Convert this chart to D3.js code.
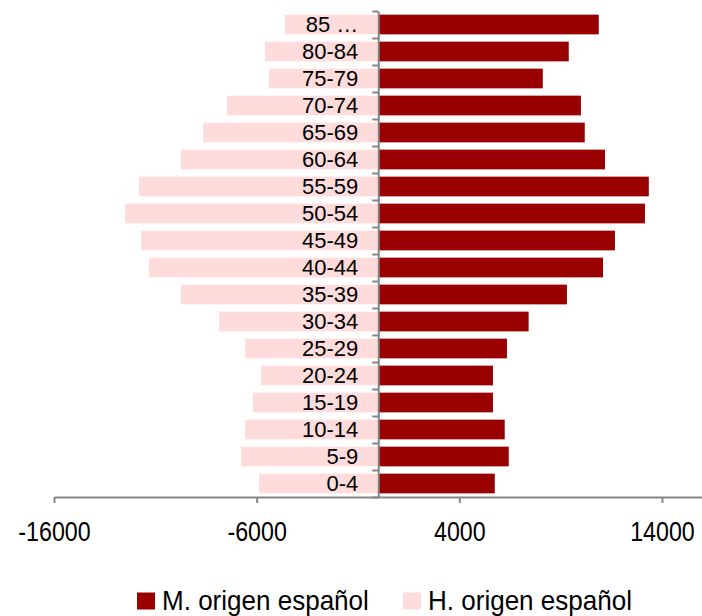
<!DOCTYPE html>
<html>
<head>
<meta charset="utf-8">
<script src="https://cdn.jsdelivr.net/npm/d3@7"></script>
<style>
  body { margin: 0; background: #fff; }
  text { font-family: "Liberation Sans", Arial, sans-serif; fill: #000; }
</style>
</head>
<body>
<svg id="chart" width="702" height="616"></svg>
<script>
// age groups, bottom to top
const categories = ["0-4", "5-9", "10-14", "15-19", "20-24", "25-29", "30-34", "35-39", "40-44",
  "45-49", "50-54", "55-59", "60-64", "65-69", "70-74", "75-79", "80-84", "85 …"];

// M. origen español (right side)
const mujeres = [5750, 6440, 6240, 5660, 5660, 6350, 7420, 9310, 11090,
  11680, 13160, 13350, 11190, 10190, 10000, 8120, 9400, 10880];

// H. origen español (left side, drawn as negative)
const hombres = [5880, 6770, 6570, 6180, 5780, 6570, 7850, 9730, 11310,
  11700, 12490, 11800, 9730, 8640, 7460, 5390, 5590, 4600];

const xTicks = [-16000, -6000, 4000, 14000];

const seriesNames = ["M. origen español", "H. origen español"];
const colors = ["#990000", "#ffdcdc"];

const svg = d3.select("#chart");

const x = d3.scaleLinear().domain([-16000, 16000]).range([54, 702.5]);
const y = d3.scaleBand()
  .domain(categories.slice().reverse())
  .range([11, 497])
  .paddingInner(0.27)
  .paddingOuter(0.135);

const rows = categories.map((c, i) => ({ name: c, m: mujeres[i], h: hombres[i] }));

// H bars (left)
svg.append("g").selectAll("rect")
  .data(rows)
  .join("rect")
  .attr("x", d => x(-d.h))
  .attr("y", d => y(d.name))
  .attr("width", d => x(0) - x(-d.h))
  .attr("height", y.bandwidth())
  .attr("fill", colors[1]);

// M bars (right)
svg.append("g").selectAll("rect")
  .data(rows)
  .join("rect")
  .attr("x", x(0))
  .attr("y", d => y(d.name))
  .attr("width", d => x(d.m) - x(0))
  .attr("height", y.bandwidth())
  .attr("fill", colors[0]);

// category labels next to the zero line
const labelAxis = svg.append("g")
  .attr("transform", `translate(${x(0)},0)`)
  .call(d3.axisLeft(y).tickSize(0).tickPadding(20));
labelAxis.select(".domain").remove();
labelAxis.selectAll("text").attr("font-size", 22).attr("font-family", null);

// vertical axis with ticks between categories
const yEdges = d3.scaleLinear().domain([0, categories.length]).range([497, 11]);
const edgeAxis = svg.append("g")
  .attr("transform", `translate(${x(0)},0)`)
  .call(d3.axisLeft(yEdges).ticks(categories.length).tickFormat("").tickSize(6).tickSizeOuter(0));
edgeAxis.selectAll("path, line").attr("stroke", "#868686").attr("stroke-width", 2);

// horizontal axis
const xAxis = svg.append("g")
  .attr("transform", "translate(0,497)")
  .call(d3.axisBottom(x).tickValues(xTicks).tickFormat(d => String(d)).tickSize(6).tickSizeOuter(0).tickPadding(19));
xAxis.selectAll("path, line").attr("stroke", "#868686").attr("stroke-width", 2);
// narrow, tall digits like the original
xAxis.selectAll("text").attr("font-size", 27).attr("font-family", null).attr("transform", "scale(0.86,1)");

// legend
const legendX = [137, 403];
seriesNames.forEach((name, i) => {
  svg.append("rect")
    .attr("x", legendX[i]).attr("y", 592.5)
    .attr("width", 18).attr("height", 17)
    .attr("fill", colors[i]);
  svg.append("text")
    .attr("transform", `translate(${legendX[i] + 25},609.5) scale(0.93,1)`)
    .attr("font-size", 28)
    .text(name);
});
</script>
</body>
</html>
